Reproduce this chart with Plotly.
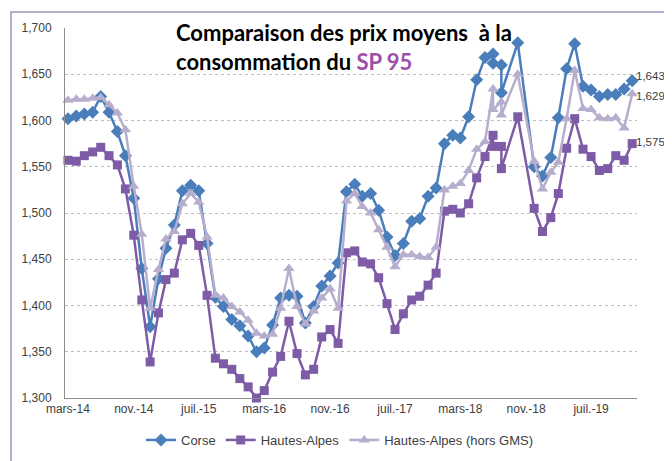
import plotly.graph_objects as go

# Monthly observation dates (two observations in juil.-18 and août-18; none in sept.-18 and nov.-18)
dates = [
    "2014-03-01", "2014-04-01", "2014-05-01", "2014-06-01", "2014-07-01", "2014-08-01",
    "2014-09-01", "2014-10-01", "2014-11-01", "2014-12-01",
    "2015-01-01", "2015-02-01", "2015-03-01", "2015-04-01", "2015-05-01", "2015-06-01",
    "2015-07-01", "2015-08-01", "2015-09-01", "2015-10-01", "2015-11-01", "2015-12-01",
    "2016-01-01", "2016-02-01", "2016-03-01", "2016-04-01", "2016-05-01", "2016-06-01",
    "2016-07-01", "2016-08-01", "2016-09-01", "2016-10-01", "2016-11-01", "2016-12-01",
    "2017-01-01", "2017-02-01", "2017-03-01", "2017-04-01", "2017-05-01", "2017-06-01",
    "2017-07-01", "2017-08-01", "2017-09-01", "2017-10-01", "2017-11-01", "2017-12-01",
    "2018-01-01", "2018-02-01", "2018-03-01", "2018-04-01", "2018-05-01", "2018-06-01",
    "2018-07-01", "2018-07-01", "2018-08-01", "2018-08-01", "2018-10-01", "2018-12-01",
    "2019-01-01", "2019-02-01", "2019-03-01", "2019-04-01", "2019-05-01", "2019-06-01",
    "2019-07-01", "2019-08-01", "2019-09-01", "2019-10-01", "2019-11-01", "2019-12-01",
]

corse = [
    1.602, 1.605, 1.607, 1.609, 1.626, 1.609, 1.588, 1.562, 1.516, 1.440,
    1.377, 1.429, 1.462, 1.487, 1.524, 1.530, 1.524, 1.467, 1.409, 1.399,
    1.385, 1.378, 1.367, 1.350, 1.354, 1.379, 1.408, 1.411, 1.410, 1.381,
    1.399, 1.421, 1.432, 1.446, 1.523, 1.531, 1.518, 1.521, 1.503, 1.474,
    1.454, 1.467, 1.491, 1.494, 1.518, 1.527, 1.575, 1.584, 1.581, 1.604,
    1.644, 1.668, 1.672, 1.662, 1.660, 1.630, 1.684, 1.550,
    1.540, 1.560, 1.603, 1.656, 1.683, 1.637, 1.633, 1.626, 1.628, 1.628, 1.634, 1.643,
]

hautes_alpes = [
    1.557, 1.556, 1.562, 1.566, 1.571, 1.562, 1.552, 1.526, 1.476, 1.406,
    1.339, 1.392, 1.428, 1.435, 1.471, 1.478, 1.465, 1.411, 1.343, 1.337,
    1.331, 1.321, 1.312, 1.300, 1.308, 1.328, 1.345, 1.383, 1.348, 1.325,
    1.331, 1.366, 1.374, 1.359, 1.457, 1.459, 1.447, 1.445, 1.430, 1.402,
    1.374, 1.391, 1.406, 1.410, 1.422, 1.435, 1.502, 1.504, 1.500, 1.510,
    1.538, 1.561, 1.584, 1.572, 1.572, 1.548, 1.604, 1.505,
    1.480, 1.495, 1.521, 1.570, 1.602, 1.569, 1.561, 1.546, 1.548, 1.562, 1.557, 1.575,
]

hautes_alpes_hors_gms = [
    1.622, 1.623, 1.623, 1.624, 1.625, 1.617, 1.608, 1.590, 1.529, 1.477,
    1.397, 1.439, 1.472, 1.480, 1.510, 1.521, 1.512, 1.474, 1.411, 1.408,
    1.399, 1.393, 1.384, 1.370, 1.367, 1.369, 1.397, 1.440, 1.399, 1.380,
    1.394, 1.408, 1.418, 1.397, 1.513, 1.521, 1.507, 1.500, 1.482, 1.463,
    1.442, 1.455, 1.455, 1.453, 1.452, 1.463, 1.525, 1.529, 1.532, 1.546,
    1.569, 1.577, 1.634, 1.612, 1.620, 1.606, 1.650, 1.556,
    1.526, 1.544, 1.555, 1.602, 1.654, 1.613, 1.612, 1.603, 1.602, 1.603, 1.592, 1.629,
]

tick_dates = ["2014-03-01", "2014-11-01", "2015-07-01", "2016-03-01", "2016-11-01",
              "2017-07-01", "2018-03-01", "2018-11-01", "2019-07-01"]
tick_labels = ["mars-14", "nov.-14", "juil.-15", "mars-16", "nov.-16",
               "juil.-17", "mars-18", "nov.-18", "juil.-19"]
y_ticks = [1.300, 1.350, 1.400, 1.450, 1.500, 1.550, 1.600, 1.650, 1.700]

series = [
    ("Corse", corse, "#4A7EBB", "diamond", 10),
    ("Hautes-Alpes", hautes_alpes, "#7D5BA6", "square", 9),
    ("Hautes-Alpes (hors GMS)", hautes_alpes_hors_gms, "#B7AECD", "triangle-up", 10),
]

# The page body adds an 8px offset, so the figure is sized to the visible area
W, H = 664, 453
ML, MR, MT, MB = 57, 35, 20, 63
PW, PH = W - ML - MR, H - MT - MB

fig = go.Figure()
for name, vals, color, sym, size in series:
    fig.add_trace(go.Scatter(
        x=dates, y=vals, name=name, mode="lines+markers",
        line=dict(color=color, width=2.5),
        marker=dict(symbol=sym, size=size, color=color),
        cliponaxis=False,
    ))

# end-of-series data labels
label_shift = {"Corse": 5, "Hautes-Alpes": 2, "Hautes-Alpes (hors GMS)": -2}
for name, vals, color, sym, size in series:
    fig.add_annotation(
        x=dates[-1], y=vals[-1], xref="x", yref="y",
        text=f"{vals[-1]:.3f}".replace(".", ","),
        showarrow=False, xanchor="left", yanchor="middle",
        xshift=2, yshift=label_shift[name],
        font=dict(family="Liberation Sans, Arial", size=11.5, color="#404040"),
    )

title_font = dict(family="Lato, Open Sans, sans-serif", size=22, color="#000000")
fig.add_annotation(
    x=(166 - ML) / PW, y=1.0 - (24 - MT) / PH, xref="paper", yref="paper",
    text="<b>Comparaison des prix moyens  à la</b>",
    showarrow=False, xanchor="left", yanchor="middle", font=title_font,
)
fig.add_annotation(
    x=(166 - ML) / PW, y=1.0 - (54 - MT) / PH, xref="paper", yref="paper",
    text="<b>consommation du <span style='color:#9B4FA8'>SP 95</span></b>",
    showarrow=False, xanchor="left", yanchor="middle", font=title_font,
)

# outer frame
fig.add_shape(
    type="rect", xref="paper", yref="paper",
    x0=(3 - ML) / PW, x1=1.2, y0=-0.3, y1=1.0 + (MT - 4) / PH,
    line=dict(color="#A595BC", width=1.5), fillcolor="rgba(0,0,0,0)", layer="below",
)

fig.update_layout(
    width=W, height=H, autosize=False,
    margin=dict(l=ML, r=MR, t=MT, b=MB, autoexpand=False),
    paper_bgcolor="white", plot_bgcolor="white",
    separators=", ",
    showlegend=True,
    legend=dict(
        orientation="h", x=(332 - ML) / PW, xanchor="center", y=-(432 - (MT + PH)) / PH,
        yanchor="middle",
        font=dict(family="Liberation Sans, Arial", size=13, color="#404040"),
        itemwidth=30, bgcolor="rgba(0,0,0,0)",
    ),
    xaxis=dict(
        type="date", range=["2014-02-18", "2019-12-19"],
        tickmode="array", tickvals=tick_dates, ticktext=tick_labels,
        showgrid=False, showline=True, linecolor="#8C8C8C", linewidth=1,
        ticks="", tickfont=dict(family="Liberation Sans, Arial", size=12, color="#404040"),
        zeroline=False,
    ),
    yaxis=dict(
        range=[1.3, 1.7], tickmode="array", tickvals=y_ticks, tickformat=".3f",
        showgrid=True, gridcolor="#BFBFBF", griddash="dot", gridwidth=1,
        showline=True, linecolor="#8C8C8C", linewidth=1,
        ticks="", ticklabelstandoff=10,
        tickfont=dict(family="Liberation Sans, Arial", size=12, color="#404040"),
        zeroline=False,
    ),
)

fig.write_html("out.html")
